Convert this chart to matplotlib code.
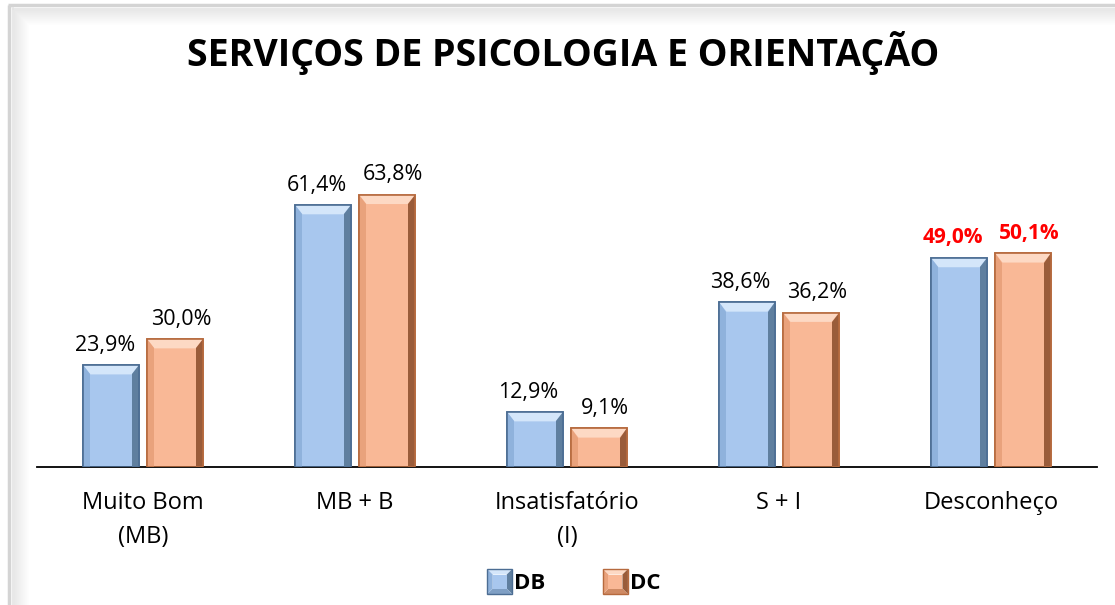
import matplotlib.pyplot as plt
from matplotlib.patches import Polygon, Rectangle
from matplotlib.legend_handler import HandlerBase
import numpy as np

categories = ['Muito Bom\n(MB)', 'MB + B', 'Insatisfatório\n(I)', 'S + I', 'Desconheço']
db = [23.9, 61.4, 12.9, 38.6, 49.0]
dc = [30.0, 63.8, 9.1, 36.2, 50.1]
db_labels = ['23,9%', '61,4%', '12,9%', '38,6%', '49,0%']
dc_labels = ['30,0%', '63,8%', '9,1%', '36,2%', '50,1%']

plt.rcParams['font.family'] = ['Open Sans', 'DejaVu Sans']

fig = plt.figure(figsize=(11.15, 6.05), dpi=100)

# frame: thin gray line on top/left plus soft inner shadow
bg = fig.add_axes([0, 0, 1, 1])
bg.set_xlim(0, 1115)
bg.set_ylim(605, 0)
bg.axis('off')
bg.plot([8, 1115], [5, 5], color='#d4d4d4', lw=2.5, solid_capstyle='butt')
bg.plot([9, 9], [5, 605], color='#d4d4d4', lw=2.5, solid_capstyle='butt')
bg.plot([13, 13], [8, 605], color='#e4e4e4', lw=1.2)
bg.plot([13, 1115], [9, 9], color='#e4e4e4', lw=1.2)
shade = np.linspace(0, 1, 16)
for k, t in enumerate(shade):
    g = 0.91 + 0.09 * t
    bg.add_patch(Rectangle((14 + k, 10 + k), 1115, 1, facecolor=(g, g, g), edgecolor='none', zorder=1))
    bg.add_patch(Rectangle((14 + k, 10 + k), 1, 605, facecolor=(g, g, g), edgecolor='none', zorder=1))

ax = fig.add_axes([0.0332, 0.228, 0.9507, 0.494])
ax.set_zorder(2)
ax.set_xlim(-0.5, 4.5)
ax.set_ylim(0, 70)
for s in ['top', 'right', 'left']:
    ax.spines[s].set_visible(False)
ax.spines['bottom'].set_linewidth(1.3)
ax.set_yticks([])
x = np.arange(len(categories))
ax.set_xticks(x)
ax.set_xticklabels(categories, fontsize=17, linespacing=1.6)
ax.tick_params(axis='x', length=0, pad=17)
ax.patch.set_alpha(0)

w = 0.264
off = 0.151
blue = dict(face='#a8c7ee', top='#d4e6fa', right='#5f7f9f', left='#8fb2dc', bottom='#7f9fc4', edge='#4c6d93')
orange = dict(face='#f9b896', top='#fdd9c4', right='#9a5c3a', left='#e9a27c', bottom='#cf8a64', edge='#b66a3e')


def bevel_bar(xc, h, c):
    x0, x1 = xc - w / 2, xc + w / 2
    bw = 0.035
    bh = 2.2
    ax.add_patch(Rectangle((x0, 0), w, h, facecolor=c['face'], edgecolor=c['edge'], linewidth=1.2, zorder=2))
    ax.add_patch(Polygon([(x0, h), (x1, h), (x1 - bw, h - bh), (x0 + bw, h - bh)],
                         facecolor=c['top'], edgecolor='none', zorder=3))
    ax.add_patch(Polygon([(x1, h), (x1, 0), (x1 - bw, 0), (x1 - bw, h - bh)],
                         facecolor=c['right'], edgecolor='none', zorder=3))
    ax.add_patch(Polygon([(x0, h), (x0, 0), (x0 + bw, 0), (x0 + bw, h - bh)],
                         facecolor=c['left'], edgecolor='none', zorder=3))
    ax.add_patch(Rectangle((x0, 0), w, h, facecolor='none', edgecolor=c['edge'], linewidth=1.2, zorder=4))


for i in range(len(categories)):
    bevel_bar(x[i] - off, db[i], blue)
    bevel_bar(x[i] + off, dc[i], orange)
    red = i == len(categories) - 1
    kw = dict(ha='center', va='bottom', fontsize=15.5 if not red else 15, color='red' if red else 'black',
              fontweight='bold' if red else 'normal', family=['Open Sans', 'DejaVu Sans'])
    ax.text(x[i] - off - 0.03, db[i] + 2.2, db_labels[i], **kw)
    ax.text(x[i] + off + 0.03, dc[i] + 2.2, dc_labels[i], **kw)

fig.text(0.505, 0.913, 'SERVIÇOS DE PSICOLOGIA E ORIENTAÇÃO', ha='center', va='center',
         fontsize=27, fontweight='bold')


class BevelHandler(HandlerBase):
    def __init__(self, c):
        super().__init__()
        self.c = c

    def create_artists(self, legend, orig_handle, xdescent, ydescent, width, height, fontsize, trans):
        s = 18
        x0 = width - s
        y0 = -ydescent + (height - s) / 2
        b = s * 0.22
        c = self.c
        arts = [
            Polygon([(x0, y0 + s), (x0 + s, y0 + s), (x0 + s - b, y0 + s - b), (x0 + b, y0 + s - b)], facecolor=c['top']),
            Polygon([(x0 + s, y0 + s), (x0 + s, y0), (x0 + s - b, y0 + b), (x0 + s - b, y0 + s - b)], facecolor=c['right']),
            Polygon([(x0, y0), (x0 + s, y0), (x0 + s - b, y0 + b), (x0 + b, y0 + b)], facecolor=c['bottom']),
            Polygon([(x0, y0), (x0, y0 + s), (x0 + b, y0 + s - b), (x0 + b, y0 + b)], facecolor=c['left']),
            Rectangle((x0 + b, y0 + b), s - 2 * b, s - 2 * b, facecolor=c['face']),
            Rectangle((x0, y0), s, s, facecolor='none', edgecolor=c['edge'], linewidth=1),
        ]
        for a in arts:
            a.set_transform(trans)
        return arts


hb = Rectangle((0, 0), 1, 1)
hc = Rectangle((0, 0), 1, 1, facecolor='orange')
leg = fig.legend([hb, hc], ['DB', 'DC'], loc='center', bbox_to_anchor=(0.515, 0.035), ncol=2, frameon=False,
                 handler_map={hb: BevelHandler(blue), hc: BevelHandler(orange)},
                 prop=dict(weight='bold', size=16), handlelength=1.1, handletextpad=0.1, columnspacing=2.6)

fig.savefig('out.png', dpi=100)
